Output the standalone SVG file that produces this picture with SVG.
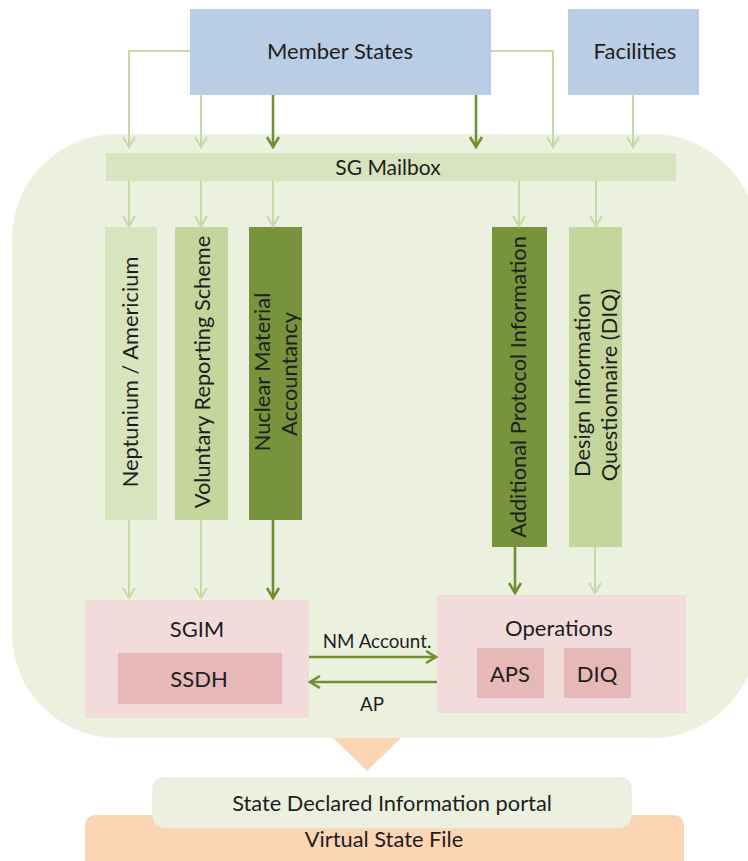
<svg xmlns="http://www.w3.org/2000/svg" width="748" height="861" viewBox="0 0 748 861">
<defs>
<style>
text{font-family:Lato,"Open Sans","Liberation Sans",sans-serif;fill:#1e1e1e;text-anchor:middle;dominant-baseline:central}
.blue{fill:#b9cde5}
.lg{fill:#d7e4bd}
.mg{fill:#c3d69b}
.dg{fill:#77933c}
.pink{fill:#f2dcdb}
.dpink{fill:#e6b9b8}
.la{fill:none;stroke:#c9d9a6;stroke-width:2;marker-end:url(#ah-l)}
.da{fill:none;stroke:#6f8f32;stroke-width:2.6;marker-end:url(#ah-d)}
.t22{font-size:22px}
.t21{font-size:21.8px}
.t19{font-size:21px}
.t17{font-size:18.8px}
</style>
<marker id="ah-l" markerUnits="userSpaceOnUse" markerWidth="16" markerHeight="16" refX="13" refY="8" orient="auto">
<polyline points="3,2 13,8 3,14" fill="none" stroke="#c9d9a6" stroke-width="2"/>
</marker>
<marker id="ah-d" markerUnits="userSpaceOnUse" markerWidth="16" markerHeight="16" refX="13" refY="8" orient="auto">
<polyline points="3,2 13,8 3,14" fill="none" stroke="#6f8f32" stroke-width="2.6"/>
</marker>
</defs>
<rect width="748" height="861" fill="#ffffff"/>

<g id="orange-arrow"><polygon points="332,720 402,720 402,737 367,771 332,737" fill="#fcd5b5"/></g>

<g id="region"><rect x="12" y="134" width="745" height="604" rx="105" ry="105" fill="#ebf1de"/></g>

<g id="member-states"><rect x="190" y="9" width="301" height="86" class="blue"/><text x="340" y="50" class="t22">Member States</text></g>
<g id="facilities"><rect x="568" y="9" width="131" height="86" class="blue"/><text x="635" y="50" class="t22">Facilities</text></g>

<g id="sg-mailbox"><rect x="106" y="153" width="570" height="28" class="lg"/><text x="388" y="166" class="t19">SG Mailbox</text></g>

<g id="col-neptunium"><rect x="105" y="227" width="52" height="293" class="lg"/><text class="t21" transform="translate(129,372) rotate(-90)">Neptunium / Americium</text></g>
<g id="col-voluntary"><rect x="175" y="227" width="53" height="293" class="mg"/><text class="t21" transform="translate(201,372) rotate(-90)">Voluntary Reporting Scheme</text></g>
<g id="col-nma"><rect x="249" y="227" width="53" height="293" class="dg"/><text class="t21" transform="translate(261,372) rotate(-90)">Nuclear Material</text><text class="t21" transform="translate(288,374) rotate(-90)">Accountancy</text></g>
<g id="col-api"><rect x="492" y="227" width="55" height="320" class="dg"/><text class="t21" transform="translate(517,387) rotate(-90)">Additional Protocol Information</text></g>
<g id="col-diq"><rect x="569" y="227" width="53" height="320" class="mg"/><text class="t21" transform="translate(581,385) rotate(-90)">Design Information</text><text class="t21" transform="translate(608,385) rotate(-90)">Questionnaire (DIQ)</text></g>

<g id="sgim"><rect x="85" y="600" width="224" height="118" class="pink"/><text x="197" y="628" class="t22">SGIM</text></g>
<g id="ssdh"><rect x="118" y="653" width="164" height="51" class="dpink"/><text x="199" y="678" class="t22">SSDH</text></g>
<g id="operations"><rect x="437" y="595" width="249" height="118" class="pink"/><text x="559" y="627" class="t22">Operations</text></g>
<g id="aps"><rect x="477" y="648" width="67" height="50" class="dpink"/><text x="510" y="673" class="t22">APS</text></g>
<g id="diq"><rect x="564" y="648" width="67" height="50" class="dpink"/><text x="597" y="673" class="t22">DIQ</text></g>

<g id="portal"><rect x="85" y="815" width="599" height="60" rx="10" fill="#fcd5b5"/><text x="384" y="838" class="t21">Virtual State File</text>
<rect x="153" y="778" width="478" height="50" rx="10" fill="#ebf1de" stroke="#e2e9d2" stroke-width="1"/><text x="392" y="802" class="t21">State Declared Information portal</text></g>

<g id="connectors">
<polyline class="la" points="190,51 129,51 129,147"/>
<line class="la" x1="201" y1="95" x2="201" y2="147"/>
<line class="da" x1="273" y1="95" x2="273" y2="147"/>
<line class="da" x1="476" y1="95" x2="476" y2="147"/>
<polyline class="la" points="491,51 553,51 553,147"/>
<line class="la" x1="633" y1="95" x2="633" y2="147"/>
<line class="la" x1="129" y1="181" x2="129" y2="226"/>
<line class="la" x1="201" y1="181" x2="201" y2="226"/>
<line class="la" x1="273" y1="181" x2="273" y2="226"/>
<line class="la" x1="519" y1="181" x2="519" y2="226"/>
<line class="la" x1="596" y1="181" x2="596" y2="226"/>
<line class="la" x1="129" y1="520" x2="129" y2="598"/>
<line class="la" x1="201" y1="520" x2="201" y2="598"/>
<line class="da" x1="273" y1="520" x2="273" y2="598"/>
<line class="da" x1="515" y1="547" x2="515" y2="593"/>
<line class="la" x1="595" y1="547" x2="595" y2="593"/>
<line class="da" x1="309" y1="657" x2="436" y2="657"/>
<line class="da" x1="437" y1="682" x2="310" y2="682"/>
<text x="377" y="640" class="t17">NM Account.</text>
<text x="372" y="703" class="t17">AP</text>
</g>
</svg>
